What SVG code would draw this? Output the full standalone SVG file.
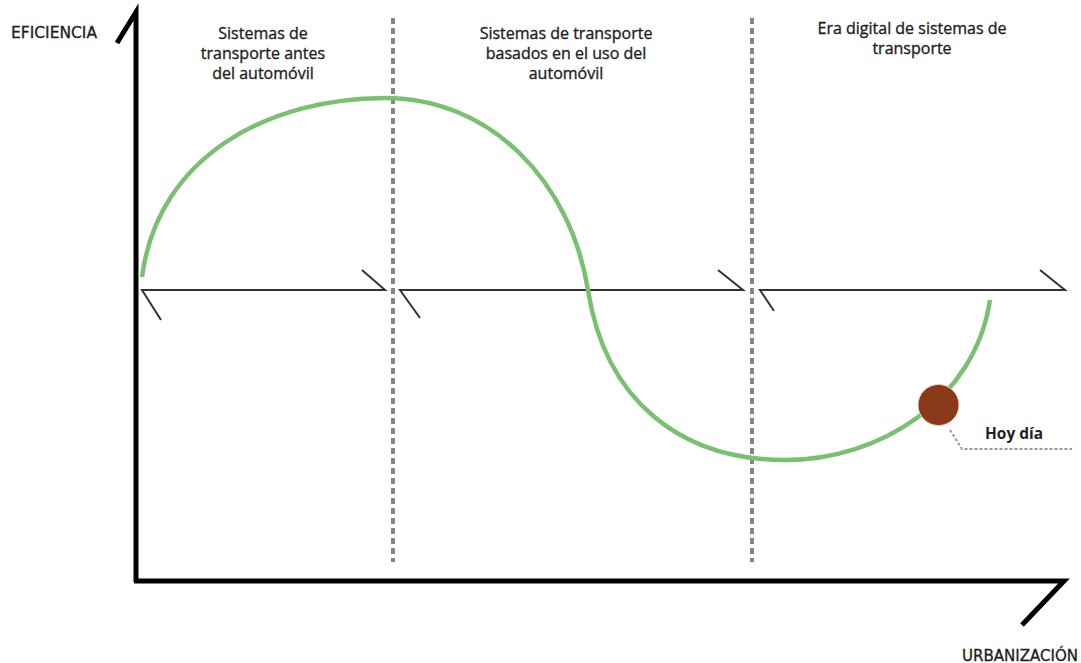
<svg xmlns="http://www.w3.org/2000/svg" width="1081" height="663" viewBox="0 0 1081 663">
<style>
.t{font-family:"Open Sans","DejaVu Sans",sans-serif;font-size:16px;fill:#1e1e1e;stroke:#1e1e1e;stroke-width:0.35;text-anchor:middle}
.ax{font-family:"DejaVu Sans Condensed","DejaVu Sans",sans-serif;font-size:15px;fill:#1e1e1e;stroke:#1e1e1e;stroke-width:0.3}
.axis{fill:none;stroke:#000;stroke-width:5;stroke-linejoin:miter}
.div{fill:none;stroke:#858585;stroke-width:4;stroke-dasharray:6 4}
.span{fill:none;stroke:#333;stroke-width:2}
.curve{fill:none;stroke:#79c071;stroke-width:4.5;stroke-linecap:butt}
</style>
<rect width="1081" height="663" fill="#fff"/>
<g id="connectors">
<path id="y-axis" class="axis" d="M117,43 L136,12 L136,582"/>
<path id="x-axis" class="axis" d="M134,581 L1064,581 L1022,625"/>
<line class="div" x1="393" y1="18" x2="393" y2="562"/>
<line class="div" x1="752" y1="18" x2="752" y2="562"/>
<path class="span" d="M161,320 L142,290 L385,290 L362,270"/>
<path class="span" d="M420,318 L400,290 L743,290 L718,270"/>
<path class="span" d="M774,311 L760,290 L1065,290 L1040,270"/>
<path id="curve" class="curve" d="M142,277 C158,155 270,98 385,98 C490,98 570,180 588,290 C605,400 680,460 785,460 C880,460 975,400 990,300"/>
<path id="leader" fill="none" stroke="#999" stroke-width="2" stroke-dasharray="3 2" d="M950,430 L962,449 L1072,449"/>
</g>
<g id="label-eficiencia"><text class="ax" x="11" y="38" textLength="86" lengthAdjust="spacingAndGlyphs">EFICIENCIA</text></g>
<g id="label-urbanizacion"><text class="ax" x="962" y="661" textLength="116" lengthAdjust="spacingAndGlyphs">URBANIZACIÓN</text></g>
<g id="era1">
<text class="t" x="263" y="39">Sistemas de</text>
<text class="t" x="263" y="59">transporte antes</text>
<text class="t" x="263" y="79">del automóvil</text>
</g>
<g id="era2">
<text class="t" x="566" y="39">Sistemas de transporte</text>
<text class="t" x="566" y="59">basados en el uso del</text>
<text class="t" x="566" y="79">automóvil</text>
</g>
<g id="era3">
<text class="t" x="912" y="34">Era digital de sistemas de</text>
<text class="t" x="912" y="54">transporte</text>
</g>
<g id="hoy-dia">
<circle cx="938.5" cy="405" r="20.5" fill="#8a3a1b" stroke="#e8cfc4" stroke-width="1"/>
<text x="985" y="439" font-family="'Open Sans','DejaVu Sans',sans-serif" font-size="16" font-weight="bold" fill="#222" textLength="58" lengthAdjust="spacingAndGlyphs">Hoy día</text>
</g>
</svg>
